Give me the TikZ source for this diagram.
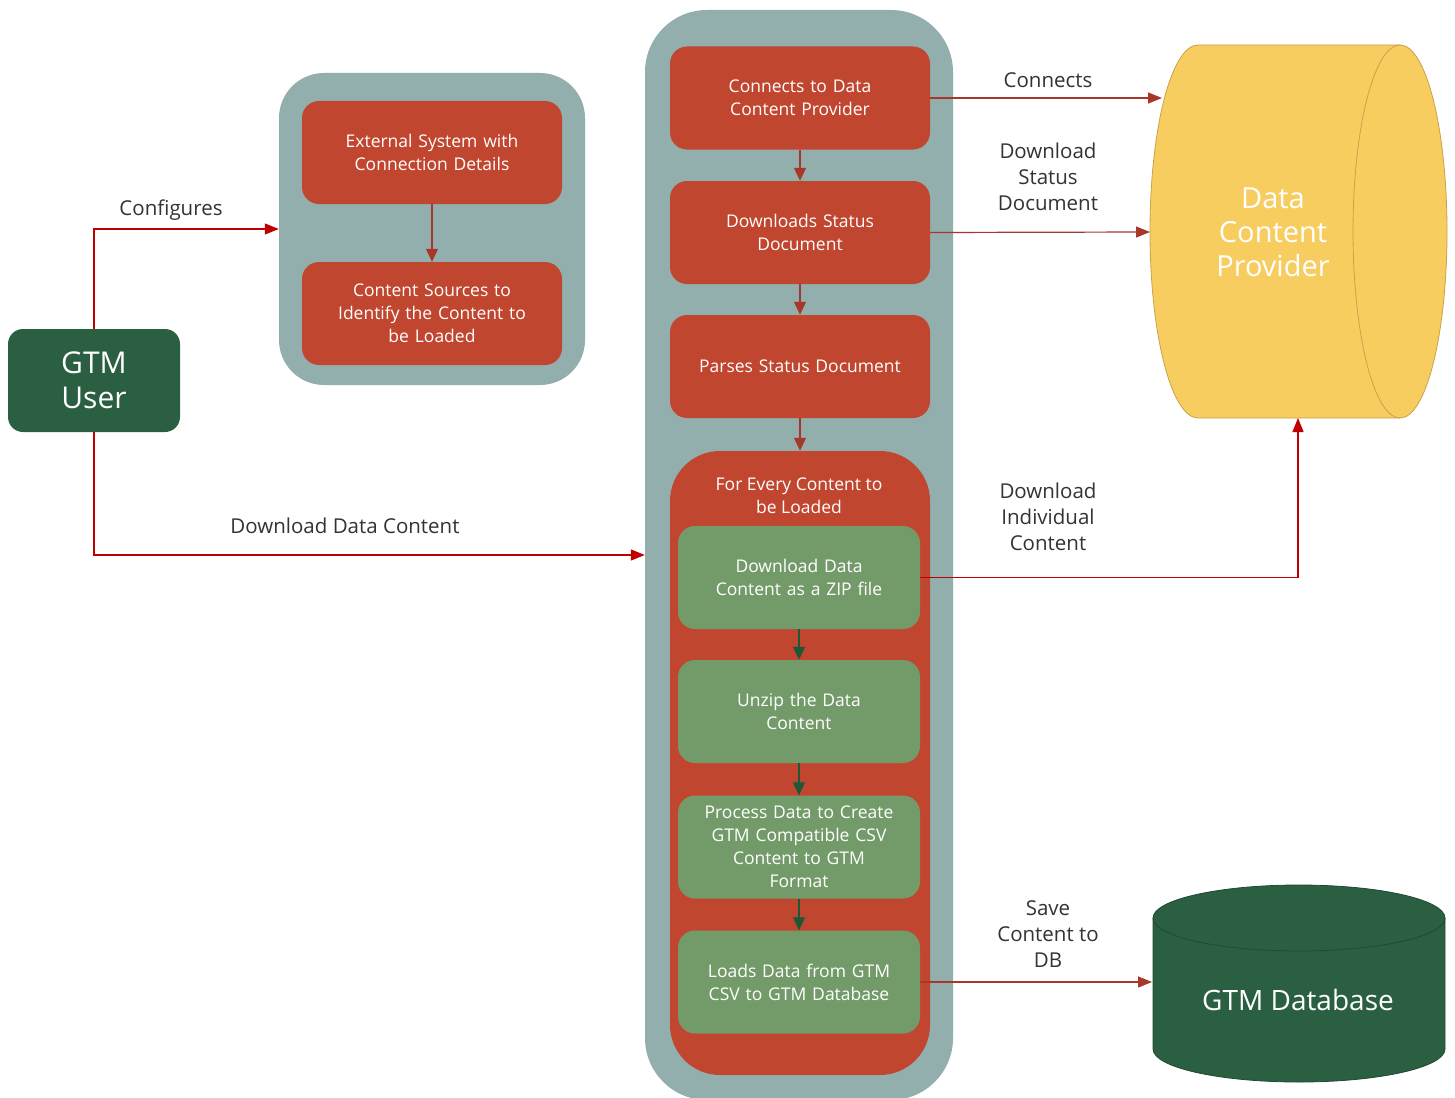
\documentclass[tikz,border=0pt]{standalone}
\usepackage{fontspec}
\setmainfont{Open Sans}
\usetikzlibrary{arrows.meta}
\definecolor{teal}{HTML}{92AFAE}
\definecolor{redbox}{HTML}{C1462F}
\definecolor{greenbox}{HTML}{739B69}
\definecolor{darkgreen}{HTML}{2A5F42}
\definecolor{dgedge}{HTML}{1E4A32}
\definecolor{yellowc}{HTML}{F8CD60}
\definecolor{yedge}{HTML}{C9A24A}
\definecolor{brightred}{HTML}{C00000}
\definecolor{darkred}{HTML}{A8362A}
\definecolor{innergreen}{HTML}{1E5638}
\definecolor{labelc}{HTML}{333333}
\begin{document}
\begin{tikzpicture}[x=1pt,y=-1pt,
  container/.style={fill=teal, draw=none, rounded corners=#1, inner sep=0pt},
  redstep/.style={fill=redbox, draw=none, rounded corners=17pt, minimum width=260pt, minimum height=103pt, text width=235pt, align=center, text=white, font=\fontsize{17.5}{23}\selectfont, inner sep=0pt},
  greenstep/.style={fill=greenbox, draw=none, rounded corners=17pt, minimum width=242pt, minimum height=103pt, text width=225pt, align=center, text=white, font=\fontsize{17.5}{23}\selectfont, inner sep=0pt},
  lbl/.style={text=labelc, align=center, font=\fontsize{20.5}{26}\selectfont, inner sep=0pt},
  conn/.style={draw=#1, line width=1.2pt, -{Triangle[length=14pt,width=11pt]}},
  inarrow/.style={draw=#1, line width=1.2pt, -{Triangle[length=13pt,width=12pt]}},
]
\useasboundingbox (0,0) rectangle (1455,1097);
\fill[white] (0,0) rectangle (1455,1097);

% containers
\node[container=45pt, minimum width=306pt, minimum height=312pt] (leftc) at (432,229) {};
\node[container=62pt, minimum width=308pt, minimum height=1090pt] (centerc) at (799,555) {};

% GTM user
\node[fill=darkgreen, rounded corners=15pt, minimum width=172pt, minimum height=103pt, text=white, align=center, font=\fontsize{30}{35}\selectfont, inner sep=0pt] (user) at (94,380.5) {GTM\\User};

% left boxes
\node[redstep] (ext) at (432,152.5) {External System with\\Connection Details};
\node[redstep] (src) at (432,313.5) {Content Sources to\\Identify the Content to\\be Loaded};

% center red boxes
\node[redstep] (b1) at (800,98) {Connects to Data\\Content Provider};
\node[redstep] (b2) at (800,232.5) {Downloads Status\\Document};
\node[redstep] (b3) at (800,366.5) {Parses Status Document};
\node[fill=redbox, rounded corners=50pt, minimum width=260pt, minimum height=624pt, inner sep=0pt] (loop) at (800,763) {};
\node[text=white, align=center, font=\fontsize{17.5}{23}\selectfont, inner sep=0pt] (looptitle) at (799,495.5) {For Every Content to\\be Loaded};

% green boxes
\node[greenstep] (g1) at (799,577.5) {Download Data\\Content as a ZIP file};
\node[greenstep] (g2) at (799,711.5) {Unzip the Data\\Content};
\node[greenstep] (g3) at (799,847) {Process Data to Create\\GTM Compatible CSV\\Content to GTM\\Format};
\node[greenstep] (g4) at (799,982) {Loads Data from GTM\\CSV to GTM Database};

% Data Content Provider cylinder
\filldraw[fill=yellowc, draw=yedge, line width=0.8pt] (1198,45) -- (1400,45)
  arc[start angle=-90, end angle=90, x radius=47, y radius=186.5]
  -- (1198,418) arc[start angle=90, end angle=270, x radius=48, y radius=186.5] -- cycle;
\draw[yedge, line width=0.8pt] (1400,45) arc[start angle=-90, end angle=-270, x radius=47, y radius=186.5];
\node[text=white, align=center, font=\fontsize{29}{34}\selectfont, inner sep=0pt] (dcp) at (1273,232) {Data\\Content\\Provider};
\coordinate (dcpA) at (1162,98);
\coordinate (dcpB) at (1150,232);
\coordinate (dcpC) at (1298,418);

% GTM Database cylinder
\filldraw[fill=darkgreen, draw=dgedge, line width=0.8pt] (1153,918) -- (1153,1049)
  arc[start angle=180, end angle=0, x radius=146, y radius=33]
  -- (1445,918) arc[start angle=0, end angle=-180, x radius=146, y radius=33] -- cycle;
\draw[dgedge, line width=0.8pt] (1153,918) arc[start angle=180, end angle=0, x radius=146, y radius=33];
\node[text=white, font=\fontsize{28}{33}\selectfont, inner sep=0pt] (db) at (1298,1000) {GTM Database};
\coordinate (dbA) at (1152,982);

% inner arrows
\draw[inarrow=darkred] (ext.south) -- (src.north);
\draw[inarrow=darkred] (b1.south) -- (b2.north);
\draw[inarrow=darkred] (b2.south) -- (b3.north);
\draw[inarrow=darkred] (b3.south) -- (loop.north);
\draw[inarrow=innergreen] (g1.south) -- (g2.north);
\draw[inarrow=innergreen] (g2.south) -- (g3.north);
\draw[inarrow=innergreen] (g3.south) -- (g4.north);

% outer connectors
\draw[conn=brightred] (user.north) |- (leftc.west);
\node[lbl] (lconf) at (171,210) {Configures};
\draw[conn=brightred] (user.south) |- (centerc.west);
\node[lbl] (ldl) at (345,526) {Download Data Content};
\draw[conn=darkred] (b1.east) -- (dcpA);
\node[lbl] (lcon) at (1048,80) {Connects};
\draw[conn=darkred] (b2.east) -- (dcpB);
\node[lbl] (lstat) at (1048,177) {Download\\Status\\Document};
\draw[conn=brightred] (g1.east) -| (dcpC);
\node[lbl] (lind) at (1048,517) {Download\\Individual\\Content};
\draw[conn=darkred] (g4.east) -- (dbA);
\node[lbl] (lsave) at (1048,934) {Save\\Content to\\DB};
\end{tikzpicture}
\end{document}
